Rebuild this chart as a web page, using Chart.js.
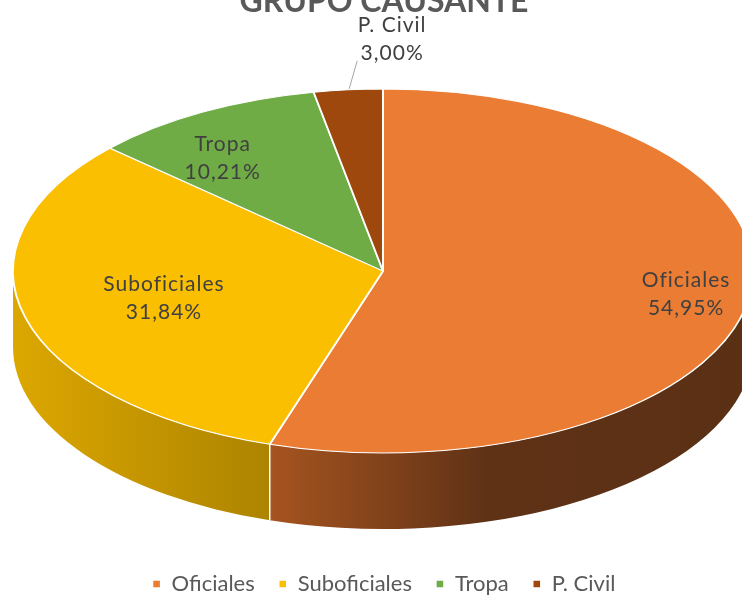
<!DOCTYPE html>
<html>
<head>
<meta charset="utf-8">
<script src="https://cdn.jsdelivr.net/npm/chart.js@4.4.1/dist/chart.umd.min.js"></script>
<style>
  html, body { margin: 0; padding: 0; background: #fff; }
  #wrap { width: 742px; height: 596px; overflow: hidden; position: relative; }
  #wrap canvas { position: absolute; left: 0; top: -24px; }
</style>
</head>
<body>
<div id="wrap"><canvas id="pieChart" width="742" height="640"></canvas></div>
<script>
// datos del grafico
const categories = ["Oficiales", "Suboficiales", "Tropa", "P. Civil"];
const percentages = [54.95, 31.84, 10.21, 3.00];

// colores: cara superior y lateral (degradado)
const topColors = ["#EA7C33", "#FABF00", "#6FAC46", "#9E480E"];
const sideStops = [
    [[0, "#A6541F"], [0.45, "#5F3216"], [1, "#5A3014"]],
    [[0, "#DCA700"], [1, "#AD8400"]],
    [[0, "#4E7A31"], [1, "#3C5E26"]],
    [[0, "#6E320A"], [1, "#5A2908"]]
];

// elipse de la cara superior (coordenadas del canvas)
const PIE = { cx: 383, cy: 295, rx: 370, ry: 182, depth: 76 };

// donde va cada etiqueta (fraccion del radio + ajuste)
const labelPlacement = [
    { r: 0.84, dx: -4, dy: 0 },
    { r: 0.59, dx: -8, dy: 0 },
    { r: 0.80, dx: -16, dy: 14 },
    { r: 1.00, dx: 44, dy: -51, leader: true }
];

function formatPct(v) {
    return v.toFixed(2).replace(".", ",") + "%";
}

const pie3d = {
    id: "pie3d",
    beforeDatasetsDraw(chart) {
        const ctx = chart.ctx;
        const arcs = chart.getDatasetMeta(0).data;

        // pared lateral visible (angulos 0..PI)
        arcs.forEach((arc, i) => {
            const a = Math.max(arc.startAngle, 0);
            const b = Math.min(arc.endAngle, Math.PI);
            if (b <= a) return;
            const x0 = PIE.cx + PIE.rx * Math.cos(b);
            const x1 = PIE.cx + PIE.rx * Math.cos(a);
            const g = ctx.createLinearGradient(x0, 0, x1, 0);
            sideStops[i].forEach(([o, c]) => g.addColorStop(o, c));
            ctx.beginPath();
            ctx.ellipse(PIE.cx, PIE.cy, PIE.rx, PIE.ry, 0, a, b);
            ctx.ellipse(PIE.cx, PIE.cy + PIE.depth, PIE.rx, PIE.ry, 0, b, a, true);
            ctx.closePath();
            ctx.fillStyle = g;
            ctx.fill();
        });

        // costuras blancas entre paredes
        arcs.forEach((arc) => {
            const e = arc.endAngle;
            if (e <= 0 || e >= Math.PI) return;
            const x = PIE.cx + PIE.rx * Math.cos(e);
            const y = PIE.cy + PIE.ry * Math.sin(e);
            ctx.beginPath();
            ctx.moveTo(x, y);
            ctx.lineTo(x, y + PIE.depth);
            ctx.strokeStyle = "#ffffff";
            ctx.lineWidth = 1.5;
            ctx.stroke();
        });

        // aplastar el pastel de Chart.js en la elipse
        const r = arcs[0].outerRadius;
        ctx.save();
        ctx.translate(PIE.cx, PIE.cy);
        ctx.scale(PIE.rx / r, PIE.ry / r);
        ctx.translate(-arcs[0].x, -arcs[0].y);
    },
    afterDatasetsDraw(chart) {
        const ctx = chart.ctx;
        ctx.restore();

        const arcs = chart.getDatasetMeta(0).data;
        ctx.save();
        ctx.font = "21px Lato";
        ctx.letterSpacing = "1px";
        ctx.fillStyle = "#404040";
        ctx.textAlign = "center";
        ctx.textBaseline = "middle";
        arcs.forEach((arc, i) => {
            const p = labelPlacement[i];
            const mid = (arc.startAngle + arc.endAngle) / 2;
            const px = PIE.cx + PIE.rx * p.r * Math.cos(mid);
            const py = PIE.cy + PIE.ry * p.r * Math.sin(mid);
            const lx = px + p.dx;
            const ly = py + p.dy;
            if (p.leader) {
                ctx.beginPath();
                ctx.moveTo(px + 1, py - 1);
                ctx.lineTo(lx - 35, ly + 22);
                ctx.strokeStyle = "#A6A6A6";
                ctx.lineWidth = 1;
                ctx.stroke();
            }
            ctx.fillText(categories[i], lx, ly - 14);
            ctx.fillText(formatPct(percentages[i]), lx, ly + 14);
        });
        ctx.restore();
    }
};

new Chart(document.getElementById("pieChart"), {
    type: "pie",
    data: {
        labels: categories,
        datasets: [{
            data: percentages,
            backgroundColor: topColors,
            borderColor: "#ffffff",
            borderWidth: 1.4,
            clip: false
        }]
    },
    options: {
        responsive: false,
        devicePixelRatio: 1,
        animation: false,
        layout: { padding: { left: 26, bottom: 11 } },
        plugins: {
            title: {
                display: true,
                text: "GRUPO CAUSANTE",
                color: "#595959",
                font: { family: "Lato", size: 32, weight: "bold" },
                padding: { top: 6, bottom: 0 }
            },
            legend: {
                position: "bottom",
                labels: {
                    usePointStyle: true,
                    pointStyle: "rect",
                    boxWidth: 8,
                    boxHeight: 8,
                    padding: 24,
                    color: "#595959",
                    font: { family: "Lato", size: 22 }
                }
            },
            tooltip: { enabled: false }
        }
    },
    plugins: [pie3d]
});
</script>
</body>
</html>
